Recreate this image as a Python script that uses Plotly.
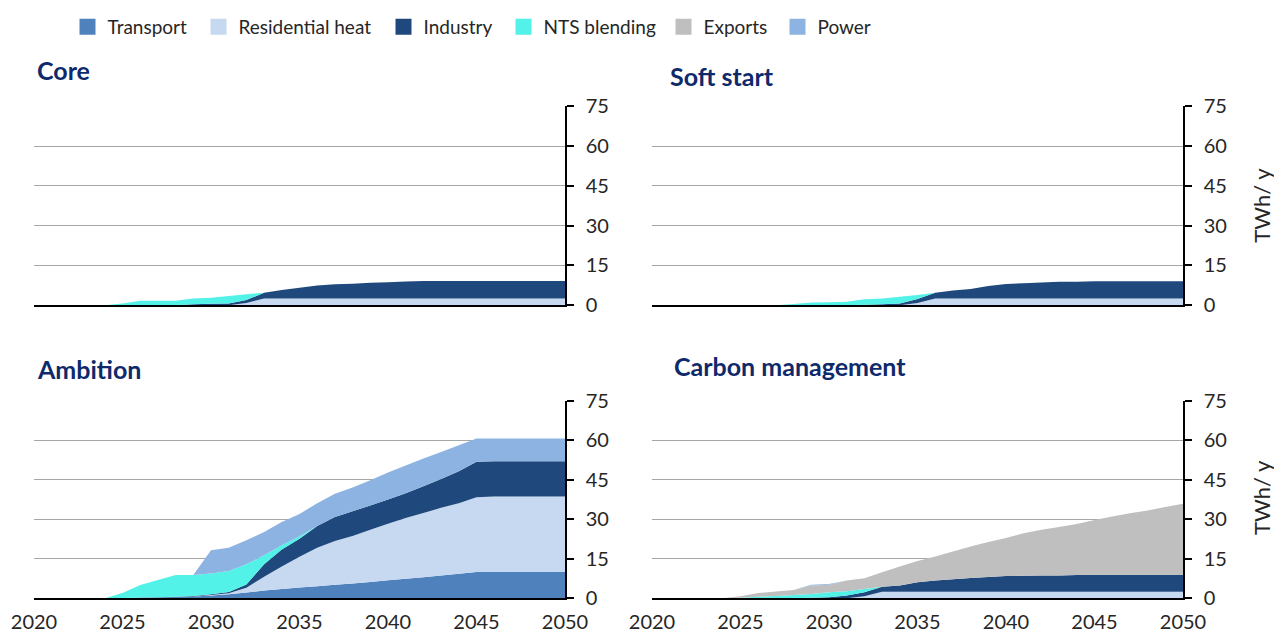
import plotly.graph_objects as go

# Hydrogen demand by sector, TWh/y, 2020-2050
years = list(range(2020, 2051))
year_ticks = [2020, 2025, 2030, 2035, 2040, 2045, 2050]
value_ticks = [0, 15, 30, 45, 60, 75]

sectors = ["Transport", "Residential heat", "Industry", "NTS blending", "Exports", "Power"]
colors = ["#4F81BD", "#C6D9F1", "#1F497D", "#52F2E8", "#BFBFBF", "#8DB3E2"]

scenarios = ["Core", "Soft start", "Ambition", "Carbon management"]

#                 2020........2024  2025.................2029  2030.................2034  2035.................2039  2040.................2044  2045.................2049  2050
core_transport = [0, 0, 0, 0, 0, 0, 0, 0, 0, 0, 0, 0, 0, 0, 0, 0, 0, 0, 0, 0, 0, 0, 0, 0, 0, 0, 0, 0, 0, 0, 0]
core_residential = [0, 0, 0, 0, 0, 0, 0, 0, 0, 0, 0, 0, 0.8, 2.5, 2.5, 2.5, 2.5, 2.5, 2.5, 2.5,
                    2.5, 2.5, 2.5, 2.5, 2.5, 2.5, 2.5, 2.5, 2.5, 2.5, 2.5]
core_industry = [0, 0, 0, 0, 0, 0, 0, 0, 0, 0.3, 0.5, 0.6, 1.1, 2.2, 3.2, 4.1, 4.9, 5.4, 5.6, 5.9,
                 6.1, 6.4, 6.6, 6.6, 6.6, 6.6, 6.6, 6.6, 6.6, 6.6, 6.6]
core_nts = [0, 0, 0, 0, 0, 0.6, 1.7, 1.7, 1.7, 2.2, 2.3, 2.8, 2.2, 0, 0, 0, 0, 0, 0, 0,
            0, 0, 0, 0, 0, 0, 0, 0, 0, 0, 0]
core_exports = [0, 0, 0, 0, 0, 0, 0, 0, 0, 0, 0, 0, 0, 0, 0, 0, 0, 0, 0, 0, 0, 0, 0, 0, 0, 0, 0, 0, 0, 0, 0]
core_power = [0, 0, 0, 0, 0, 0, 0, 0, 0, 0, 0, 0, 0, 0, 0, 0, 0, 0, 0, 0, 0, 0, 0, 0, 0, 0, 0, 0, 0, 0, 0]

soft_transport = [0, 0, 0, 0, 0, 0, 0, 0, 0, 0, 0, 0, 0, 0, 0, 0, 0, 0, 0, 0, 0, 0, 0, 0, 0, 0, 0, 0, 0, 0, 0]
soft_residential = [0, 0, 0, 0, 0, 0, 0, 0, 0, 0, 0, 0, 0, 0, 0, 0.8, 2.5, 2.5, 2.5, 2.5,
                    2.5, 2.5, 2.5, 2.5, 2.5, 2.5, 2.5, 2.5, 2.5, 2.5, 2.5]
soft_industry = [0, 0, 0, 0, 0, 0, 0, 0, 0, 0, 0, 0, 0.1, 0.3, 0.6, 1.5, 2.2, 3.0, 3.6, 4.7,
                 5.5, 5.8, 6.0, 6.3, 6.3, 6.5, 6.5, 6.5, 6.5, 6.5, 6.5]
soft_nts = [0, 0, 0, 0, 0, 0, 0, 0, 0.4, 1.0, 1.1, 1.3, 2.1, 2.2, 2.6, 1.5, 0, 0, 0, 0,
            0, 0, 0, 0, 0, 0, 0, 0, 0, 0, 0]
soft_exports = [0, 0, 0, 0, 0, 0, 0, 0, 0, 0, 0, 0, 0, 0, 0, 0, 0, 0, 0, 0, 0, 0, 0, 0, 0, 0, 0, 0, 0, 0, 0]
soft_power = [0, 0, 0, 0, 0, 0, 0, 0, 0, 0, 0, 0, 0, 0, 0, 0, 0, 0, 0, 0, 0, 0, 0, 0, 0, 0, 0, 0, 0, 0, 0]

amb_transport = [0, 0, 0, 0, 0, 0, 0.2, 0.3, 0.5, 0.7, 1.0, 1.5, 2.2, 2.9, 3.5, 4.1, 4.6, 5.1, 5.6, 6.2,
                 6.8, 7.4, 8.0, 8.6, 9.3, 10.0, 10.0, 10.0, 10.0, 10.0, 10.0]
amb_residential = [0, 0, 0, 0, 0, 0, 0, 0, 0, 0, 0.2, 0.4, 1.8, 5.3, 8.5, 11.6, 14.6, 16.6, 18.0, 19.8,
                   21.5, 23.0, 24.3, 25.7, 26.7, 28.3, 28.6, 28.6, 28.6, 28.6, 28.6]
amb_industry = [0, 0, 0, 0, 0, 0, 0.1, 0.1, 0.1, 0.2, 0.3, 0.5, 1.2, 4.7, 6.5, 6.9, 8.2, 9.1, 9.4, 9.2,
                9.2, 9.4, 10.2, 10.9, 12.2, 13.5, 13.4, 13.4, 13.4, 13.4, 13.4]
amb_nts = [0, 0, 0, 0, 0, 2.0, 4.7, 6.5, 8.2, 7.9, 7.9, 7.9, 7.7, 3.4, 1.6, 0.9, 0, 0, 0, 0,
           0, 0, 0, 0, 0, 0, 0, 0, 0, 0, 0]
amb_exports = [0, 0, 0, 0, 0, 0, 0, 0, 0, 0, 0, 0, 0, 0, 0, 0, 0, 0, 0, 0, 0, 0, 0, 0, 0, 0, 0, 0, 0, 0, 0]
amb_power = [0, 0, 0, 0, 0, 0, 0, 0, 0, 0, 8.8, 8.9, 9.1, 8.8, 8.8, 8.5, 8.6, 8.8, 9.0, 9.6,
             10.2, 10.6, 10.5, 10.3, 9.8, 8.8, 8.6, 8.6, 8.6, 8.6, 8.6]

cm_transport = [0, 0, 0, 0, 0, 0, 0, 0, 0, 0, 0, 0, 0, 0, 0, 0, 0, 0, 0, 0, 0, 0, 0, 0, 0, 0, 0, 0, 0, 0, 0]
cm_residential = [0, 0, 0, 0, 0, 0, 0, 0, 0, 0, 0, 0, 0.8, 2.5, 2.5, 2.5, 2.5, 2.5, 2.5, 2.5,
                  2.5, 2.5, 2.5, 2.5, 2.5, 2.5, 2.5, 2.5, 2.5, 2.5, 2.5]
cm_industry = [0, 0, 0, 0, 0, 0, 0, 0, 0, 0.2, 0.4, 1.0, 1.5, 1.9, 2.3, 3.6, 4.2, 4.7, 5.2, 5.6,
               5.9, 6.0, 6.1, 6.1, 6.3, 6.4, 6.4, 6.4, 6.4, 6.4, 6.4]
cm_nts = [0, 0, 0, 0, 0, 0.2, 0.6, 0.9, 1.2, 1.4, 1.9, 1.7, 1.2, 0, 0, 0, 0, 0, 0, 0,
          0, 0, 0, 0, 0, 0, 0, 0, 0, 0, 0]
cm_exports = [0, 0, 0, 0, 0, 0.6, 1.4, 1.7, 1.9, 3.2, 2.8, 4.0, 4.1, 5.5, 7.2, 8.0, 9.1, 10.5, 11.9, 13.2,
              14.5, 16.2, 17.4, 18.4, 19.4, 20.8, 22.1, 23.3, 24.4, 25.7, 26.9]
cm_power = [0, 0, 0, 0, 0, 0, 0, 0, 0, 0.3, 0.3, 0, 0, 0, 0, 0, 0, 0, 0, 0,
            0, 0, 0, 0, 0, 0, 0, 0, 0, 0, 0]

panels = [
    [core_transport, core_residential, core_industry, core_nts, core_exports, core_power],
    [soft_transport, soft_residential, soft_industry, soft_nts, soft_exports, soft_power],
    [amb_transport, amb_residential, amb_industry, amb_nts, amb_exports, amb_power],
    [cm_transport, cm_residential, cm_industry, cm_nts, cm_exports, cm_power],
]

# the page body keeps its default 8px margin, so screen positions are shifted by it
OFF = 8
W, H = 1282, 631
FONT = "Lato"
TEXT = "#262626"
NAVY = "#0F2A6B"


def fx(px):
    return (px - OFF) / W


def fy(py):
    return 1 - (py - OFF) / H


# screen boxes of the four plot areas: (left, right, top, bottom)
boxes = [(34, 565, 103, 303), (652, 1183, 103, 303), (34, 565, 399, 598), (652, 1183, 399, 598)]

fig = go.Figure()

for i, series in enumerate(panels):
    ax = "" if i == 0 else str(i + 1)
    for name, col, vals in zip(sectors, colors, series):
        fig.add_trace(go.Scatter(
            x=years, y=vals, name=name,
            xaxis="x" + ax, yaxis="y" + ax,
            stackgroup="s" + str(i), mode="none",
            fillcolor=col, line=dict(width=0),
            showlegend=False, hoverinfo="skip",
        ))

layout = dict(
    width=W, height=H,
    margin=dict(l=0, r=0, t=0, b=0),
    paper_bgcolor="white", plot_bgcolor="white",
    font=dict(family=FONT, color=TEXT),
    annotations=[],
)

# one small legend per sector so each swatch sits where the reference has it
swatch_x = [83.5, 214.5, 399.5, 519.5, 679.5, 793.5]
for k, (name, col, sx) in enumerate(zip(sectors, colors, swatch_x)):
    lg = "legend" if k == 0 else "legend" + str(k + 1)
    fig.add_trace(go.Scatter(
        x=[None], y=[None], name=name, mode="markers", legend=lg,
        marker=dict(symbol="square", size=16, color=col, line=dict(width=0)),
    ))
    layout[lg] = dict(
        orientation="h", x=fx(sx + 4 - 20), y=fy(23), xanchor="left", yanchor="middle",
        font=dict(size=19, family=FONT, color=TEXT), itemsizing="trace",
        bgcolor="rgba(0,0,0,0)",
    )

for i, (l, r, t, b) in enumerate(boxes):
    key = "" if i == 0 else str(i + 1)
    bottom_row = i >= 2
    layout["xaxis" + key] = dict(
        domain=[fx(l), fx(r)], anchor="y" + key,
        range=[2020, 2050], showgrid=False, zeroline=False,
        showline=True, linecolor="black", linewidth=1.5,
        tickvals=year_ticks, showticklabels=bottom_row, ticks="",
        ticklabelstandoff=5,
        tickfont=dict(size=20, family=FONT, color=TEXT),
        automargin=False, fixedrange=True,
    )
    layout["yaxis" + key] = dict(
        domain=[fy(b), fy(t)], anchor="x" + key, side="right",
        range=[0, 75], tickvals=value_ticks,
        showgrid=True, gridcolor="#A6A6A6", gridwidth=1, zeroline=False,
        showline=True, linecolor="black", linewidth=1.5,
        ticks="outside", ticklen=7, tickcolor="black", tickwidth=1.5,
        ticklabelstandoff=8,
        tickfont=dict(size=20, family=FONT, color=TEXT),
        automargin=False, fixedrange=True,
    )

title_pos = [(35, 66), (668, 72), (35, 367), (672, 364)]
for name, (px, py) in zip(scenarios, title_pos):
    layout["annotations"].append(dict(
        text="<b>" + name + "</b>", x=fx(px), y=fy(py), xref="paper", yref="paper",
        xanchor="left", yanchor="middle", showarrow=False,
        font=dict(size=25, family=FONT, color=NAVY),
    ))

for py in (203, 497):
    layout["annotations"].append(dict(
        text="TWh/ y", x=fx(1262), y=fy(py), xref="paper", yref="paper",
        xanchor="center", yanchor="middle", showarrow=False, textangle=-90,
        font=dict(size=22, family=FONT, color=TEXT),
    ))

fig.update_layout(layout)
fig.write_html("out.html")
